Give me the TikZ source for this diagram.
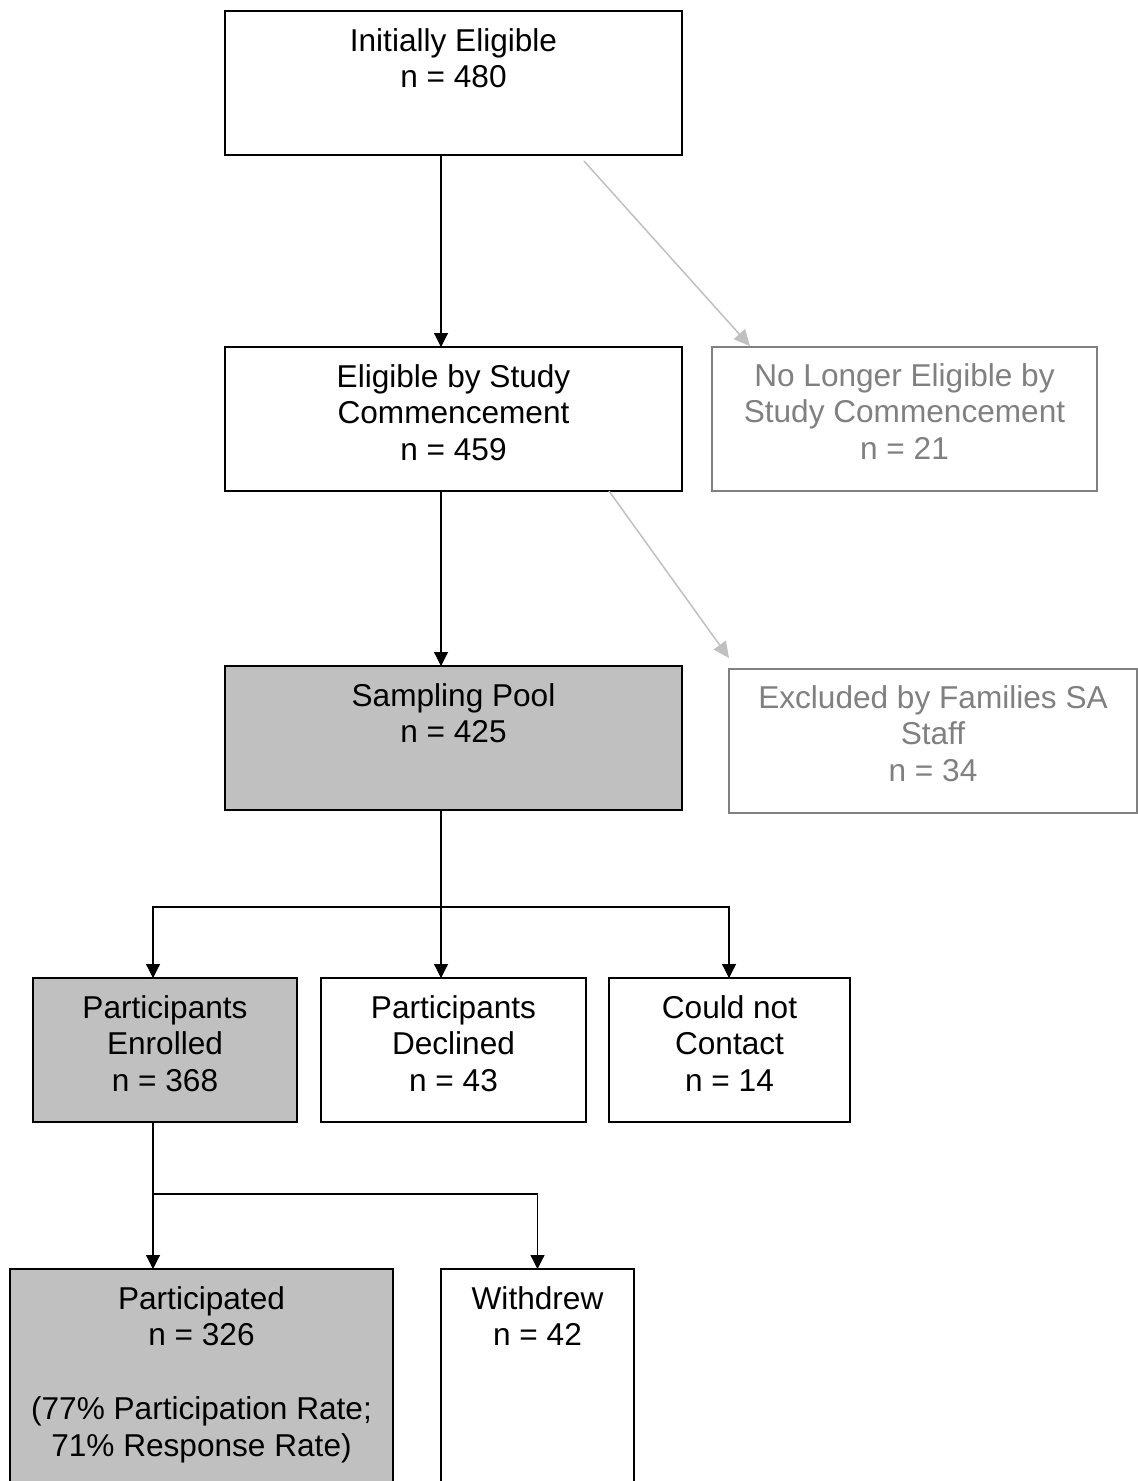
\documentclass[tikz,border=0pt]{standalone}
\usepackage{fontspec}
\setmainfont{Liberation Sans}
\usetikzlibrary{arrows.meta,calc}
\definecolor{fillgray}{HTML}{C0C0C0}
\definecolor{linegray}{HTML}{808080}
\definecolor{arrowgray}{HTML}{C0C0C0}
\newcommand\firstln{\rule{0pt}{24pt}}
\begin{document}
\begin{tikzpicture}[x=1pt,y=-1pt,
  box/.style={draw=black,line width=1.3pt,inner sep=0pt,outer sep=0pt,minimum height=144pt},
  greybox/.style={box,draw=linegray},
  filled/.style={fill=fillgray},
  txt/.style={anchor=north,align=center,inner sep=0pt,font=\fontsize{31.6}{36.7}\selectfont},
  greytxt/.style={txt,text=linegray},
  conn/.style={draw=black,line width=1.2pt},
  arr/.style={conn,-{Triangle[length=14pt,width=14pt]}},
  garr/.style={draw=arrowgray,line width=1.5pt,-{Triangle[length=16pt,width=15pt]}}]
\useasboundingbox (0,0) rectangle (1138,1481);
% boxes
\node[box,minimum width=457pt] (init) at (453.5,83) {};
\node[box,minimum width=457pt] (elig) at (453.5,419) {};
\node[greybox,minimum width=385pt] (nolonger) at (904.5,419) {};
\node[box,filled,minimum width=457pt] (pool) at (453.5,738) {};
\node[greybox,minimum width=408pt] (excl) at (933,741) {};
\node[box,filled,minimum width=264pt] (enrolled) at (165,1050) {};
\node[box,minimum width=265pt] (declined) at (453.5,1050) {};
\node[box,minimum width=241pt] (contact) at (729.5,1050) {};
\node[box,filled,minimum width=383pt,minimum height=230pt] (particip) at (201.5,1384) {};
\node[box,minimum width=193pt,minimum height=230pt] (withdrew) at (537.5,1384) {};
% texts
\node[txt] (t-init) at ([yshift=-16pt]init.north) {\firstln Initially Eligible\\n = 480};
\node[txt] (t-elig) at ([yshift=-16pt]elig.north) {\firstln Eligible by Study\\Commencement\\n = 459};
\node[greytxt] (t-nolonger) at ([yshift=-15pt]nolonger.north) {\firstln No Longer Eligible by\\Study Commencement\\n = 21};
\node[txt] (t-pool) at ([yshift=-16pt]pool.north) {\firstln Sampling Pool\\n = 425};
\node[greytxt] (t-excl) at ([yshift=-15pt]excl.north) {\firstln Excluded by Families SA\\Staff\\n = 34};
\node[txt] (t-enrolled) at ([yshift=-16pt]enrolled.north) {\firstln Participants\\Enrolled\\n = 368};
\node[txt] (t-declined) at ([yshift=-16pt]declined.north) {\firstln Participants\\Declined\\n = 43};
\node[txt] (t-contact) at ([yshift=-16pt]contact.north) {\firstln Could not\\Contact\\n = 14};
\node[txt] (t-particip) at ([yshift=-16pt]particip.north) {\firstln Participated\\n = 326\\[36.7pt](77\% Participation Rate;\\71\% Response Rate)};
\node[txt] (t-withdrew) at ([yshift=-16pt]withdrew.north) {\firstln Withdrew\\n = 42};
% connectors
\draw[arr] ([xshift=-12.5pt]init.south) -- ([xshift=-12.5pt]elig.north);
\draw[arr] ([xshift=-12.5pt]elig.south) -- ([xshift=-12.5pt]pool.north);
\draw[garr] ([xshift=130.5pt,yshift=-6pt]init.south) -- ([xshift=38pt,yshift=1pt]nolonger.north west);
\draw[garr] ([xshift=155.5pt]elig.south) -- ([yshift=11pt]excl.north west);
\coordinate (j1) at (441,907);
\draw[conn] ([xshift=-12.5pt]pool.south) -- (j1);
\draw[arr] (j1) -| ([xshift=-12pt]enrolled.north);
\draw[arr] (j1) -- ([xshift=-12.5pt]declined.north);
\draw[arr] (j1) -| ([xshift=-0.5pt]contact.north);
\coordinate (j2) at (153,1194);
\draw[conn] ([xshift=-12pt]enrolled.south) -- (j2);
\draw[arr] (j2) -- ([xshift=-48.5pt]particip.north);
\draw[arr] (j2) -| (withdrew.north);
\end{tikzpicture}
\end{document}
